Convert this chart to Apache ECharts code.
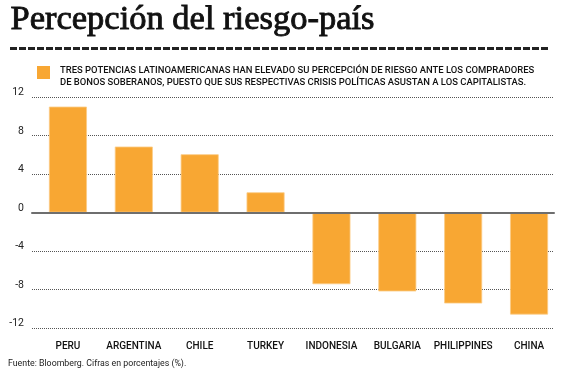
<!DOCTYPE html>
<html>
<head>
<meta charset="utf-8">
<script src="https://cdn.jsdelivr.net/npm/echarts@6/dist/echarts.min.js"></script>
<style>
  html, body { margin: 0; padding: 0; background: #fff; }
  #chart { width: 563px; height: 376px; }
</style>
</head>
<body>
<div id="chart"></div>
<script>
"use strict";

var countries = ['PERU', 'ARGENTINA', 'CHILE', 'TURKEY', 'INDONESIA', 'BULGARIA', 'PHILIPPINES', 'CHINA'];
var riesgo = [11.0, 6.85, 6.05, 2.1, -7.45, -8.2, -9.45, -10.6];
var yTicks = [-12, -8, -4, 0, 4, 8, 12];

var orange = '#F8A733';

var myChart = echarts.init(document.getElementById('chart'));

var option = {
    animation: false,
    textStyle: { fontFamily: 'Roboto' },
    graphic: [
        {
            type: 'text', left: 10, top: 2,
            style: {
                text: 'Percepción del riesgo-país',
                font: '34.5px "Liberation Serif"',
                fill: '#111',
                stroke: '#111',
                lineWidth: 0.9
            }
        },
        {
            type: 'line',
            shape: { x1: 10, y1: 48.5, x2: 548, y2: 48.5 },
            style: { stroke: '#222', lineWidth: 3, lineDash: [7, 2] }
        },
        {
            type: 'rect',
            shape: { x: 37, y: 66, width: 13, height: 13 },
            style: { fill: orange }
        },
        {
            type: 'text', left: 60, top: 65,
            style: {
                text: 'TRES POTENCIAS LATINOAMERICANAS HAN ELEVADO SU PERCEPCIÓN DE RIESGO ANTE LOS COMPRADORES\nDE BONOS SOBERANOS, PUESTO QUE SUS RESPECTIVAS CRISIS POLÍTICAS ASUSTAN A LOS CAPITALISTAS.',
                font: '500 9.45px Roboto',
                lineHeight: 11.5,
                fill: '#111'
            }
        },
        {
            type: 'text', left: 8, top: 359,
            style: {
                text: 'Fuente: Bloomberg. Cifras en porcentajes (%).',
                font: '8.8px Roboto',
                fill: '#222'
            }
        }
    ],
    grid: [
        { left: 32, right: 9, top: 97, bottom: 48 },
        { left: 35, right: 1, top: 97, bottom: 48 }
    ],
    xAxis: [
        {
            gridIndex: 0,
            type: 'category',
            data: countries,
            z: 10,
            axisLine: { show: true, onZero: true, lineStyle: { color: '#6e6e6e', width: 2 } },
            axisTick: { show: false },
            axisLabel: { show: false },
            splitLine: { show: false }
        },
        {
            gridIndex: 1,
            type: 'category',
            data: countries,
            axisLine: { show: false, onZero: false },
            axisTick: { show: false },
            axisLabel: { interval: 0, color: '#111', fontSize: 10, fontWeight: 500, margin: 13 },
            splitLine: { show: false }
        }
    ],
    yAxis: [
        {
            gridIndex: 0,
            type: 'value',
            min: -12,
            max: 12,
            interval: 4,
            axisLine: { show: false },
            axisTick: { show: false },
            axisLabel: {
                color: '#222', fontSize: 10.5, margin: 8,
                verticalAlign: 'bottom',
                lineHeight: 9,
                formatter: function (v) { return yTicks.indexOf(v) >= 0 ? String(v) : ''; }
            },
            splitLine: { show: true, lineStyle: { color: '#555', type: [1, 1], width: 1 } }
        },
        {
            gridIndex: 1,
            type: 'value',
            min: -12,
            max: 12,
            show: false
        }
    ],
    series: [
        {
            type: 'bar',
            xAxisIndex: 1,
            yAxisIndex: 1,
            data: riesgo,
            barWidth: 38,
            itemStyle: { color: orange, borderColor: '#FBCB85', borderWidth: 0.8 }
        }
    ]
};

myChart.setOption(option);
</script>
</body>
</html>
